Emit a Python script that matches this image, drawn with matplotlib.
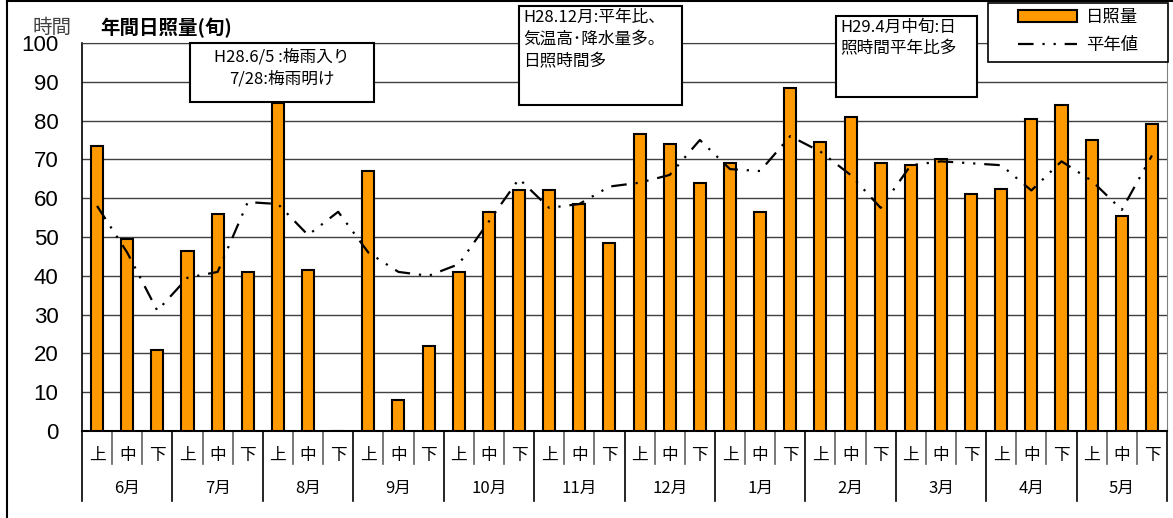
import matplotlib
matplotlib.use("Agg")
import matplotlib.pyplot as plt
from matplotlib.lines import Line2D
from matplotlib.patches import Rectangle

plt.rcParams['font.family'] = ['Noto Sans CJK JP', 'DejaVu Sans']

# Data: dekadal sunshine hours (Jun 2016 - May 2017) and normal values
months = ["6月", "7月", "8月", "9月", "10月", "11月", "12月", "1月", "2月", "3月", "4月", "5月"]
dekads = ["上", "中", "下"]
sunshine = [73.5, 49.5, 21, 46.5, 56, 41, 84.5, 41.5, 0,
            67, 8, 22, 41, 56.5, 62, 62, 58.5, 48.5,
            76.5, 74, 64, 69, 56.5, 88.5, 74.5, 81, 69,
            68.5, 70, 61, 62.5, 80.5, 84, 75, 55.5, 79]
normal = [58, 46, 31, 39.5, 41, 59, 58.5, 50.5, 56.5,
          46, 41, 40, 43, 54, 65, 57.5, 58.5, 63,
          64, 66, 75, 67.5, 67, 76, 72, 66, 57.5,
          68.5, 69.5, 69, 68.5, 62, 69.5, 64.5, 57, 71]

W, H = 1173, 518
fig = plt.figure(figsize=(W / 100, H / 100), dpi=100)
# plot area in pixels: x 82..1167, y 43..431
ax = fig.add_axes([82 / W, (H - 431) / H, 1085 / W, 388 / H])

x = list(range(len(sunshine)))
bars = ax.bar(x, sunshine, width=0.4, color="#FF9900", edgecolor="black", linewidth=1.5, zorder=3, label="日照量")
line, = ax.plot(x, normal, color="black", linewidth=1.6, linestyle=(0, (7, 4, 1, 4, 1, 4)), zorder=4, label="平年値")

ax.set_xlim(-0.5, len(sunshine) - 0.5)
ax.set_ylim(0, 100)
ax.set_yticks(range(0, 101, 10))
ax.grid(axis="y", color="#404040", linewidth=1, zorder=0)
ax.set_xticks([])
ax.tick_params(axis="y", length=0, pad=17, labelsize=16)
for lab in ax.get_yticklabels():
    lab.set_fontfamily(["Liberation Sans", "DejaVu Sans"])
ax.spines["right"].set_color("#808080")
ax.spines["top"].set_color("#404040")
ax.spines["left"].set_linewidth(1.2)
ax.spines["bottom"].set_linewidth(1.5)

# two-level x axis labels
trans = ax.get_xaxis_transform()
for i in range(len(sunshine) + 1):
    long_tick = (i % 3 == 0)
    ax.add_line(Line2D([i - 0.5, i - 0.5], [0, -0.180 if long_tick else -0.085], transform=trans,
                       color="black" if long_tick else "#606060", linewidth=1.2, clip_on=False))
for i in range(len(sunshine)):
    ax.text(i, -0.062, dekads[i % 3], transform=trans, ha="center", va="center", fontsize=12)
for m, name in enumerate(months):
    ax.text(3 * m + 1, -0.147, name, transform=trans, ha="center", va="center", fontsize=12)

# titles
fig.text(33 / W, 1 - 27 / H, "時間", fontsize=14, color="#404040", va="center", ha="left")
fig.text(100 / W, 1 - 28 / H, "年間日照量(旬)", fontsize=14, fontweight="bold", va="center", ha="left")

# annotation boxes
def note_box(x0, y0, x1, y1, text, tx, ty, ha="left", linespacing=1.5):
    fig.patches.append(Rectangle((x0 / W, 1 - y1 / H), (x1 - x0) / W, (y1 - y0) / H,
                                 transform=fig.transFigure, facecolor="white",
                                 edgecolor="black", linewidth=1.5, zorder=5))
    fig.text(tx / W, 1 - ty / H, text, fontsize=12, ha=ha, va="top",
             linespacing=linespacing, zorder=6)

note_box(190, 43, 374, 102, "H28.6/5 :梅雨入り\n7/28:梅雨明け", 282, 48, ha="center", linespacing=1.45)
note_box(519, 6, 682, 105, "H28.12月:平年比、\n気温高･降水量多。\n日照時間多", 523, 9, linespacing=1.4)
note_box(836, 16, 977, 97, "H29.4月中旬:日\n照時間平年比多", 840, 19, linespacing=1.35)

# legend frame drawn separately so it can be wider than the entries
fig.patches.append(Rectangle((988 / W, 1 - 62 / H), 180 / W, 59 / H, transform=fig.transFigure,
                             facecolor="white", edgecolor="black", linewidth=1.2, zorder=5))
leg = fig.legend(handles=[bars, line], loc="upper left", bbox_to_anchor=(1018 / W, 1 - 8 / H),
                 fontsize=12.5, frameon=False, handlelength=3.4, handletextpad=0.5,
                 labelspacing=0.6, borderpad=0, borderaxespad=0)
leg.set_zorder(6)

# outer chart border (top and left)
fig.add_artist(Line2D([7 / W, 1], [1 - 1 / H, 1 - 1 / H], transform=fig.transFigure, color="black", linewidth=1.5))
fig.add_artist(Line2D([7 / W, 7 / W], [0, 1 - 1 / H], transform=fig.transFigure, color="black", linewidth=1.5))

fig.savefig("out.png", dpi=100)
